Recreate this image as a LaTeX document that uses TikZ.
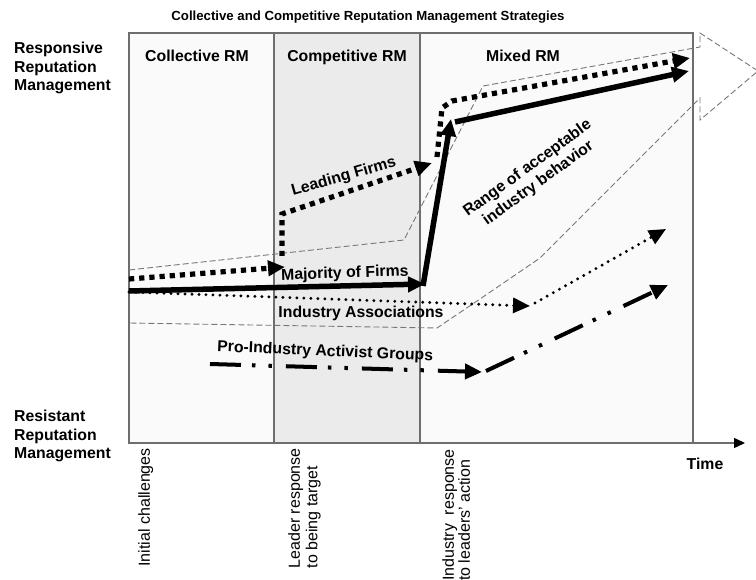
\documentclass[tikz,border=0pt]{standalone}
\usepackage{fontspec}
\setmainfont{Liberation Sans}
\usetikzlibrary{arrows.meta}
\definecolor{framegray}{HTML}{6E6E6E}
\definecolor{panellight}{HTML}{FAFAFA}
\definecolor{panelmid}{HTML}{EBEBEB}
\definecolor{rangegray}{HTML}{777777}

\begin{document}
\begin{tikzpicture}[x=1pt,y=-1pt,
  lbl/.style={font=\fontsize{15.8}{18.5}\selectfont\bfseries, inner sep=0pt},
  titlelbl/.style={font=\fontsize{13.2}{16}\selectfont\bfseries, inner sep=0pt},
  tick/.style={font=\fontsize{16}{17.5}\selectfont, inner sep=0pt, rotate=90, align=left, anchor=north east},
  tipbig/.style={-{Triangle[length=17pt,width=15pt]}},
  squaredots/.style={line width=5.2pt, dash pattern=on 5.2pt off 5pt, tipbig},
  thickline/.style={line width=5.5pt, tipbig},
  rounddots/.style={line width=3.2pt, line cap=round, dash pattern=on 0pt off 7pt, tipbig},
  dashdotdot/.style={line width=4pt, dash pattern=on 31pt off 11pt on 3.5pt off 13pt on 3.5pt off 14pt, tipbig},
  rangeline/.style={draw=rangegray, line width=0.9pt, dash pattern=on 6pt off 3pt},
  framestroke/.style={draw=framegray, line width=1.4pt},
]
\useasboundingbox (0,0) rectangle (756,580);
\fill[white] (0,0) rectangle (756,580);

% phases of the time line
\fill[panellight] (129,33) rectangle (274,443);
\fill[panelmid]   (274,33) rectangle (420,443);
\fill[panellight] (420,33) rectangle (693,443);
\draw[framestroke] (129,33) rectangle (693,443);
\draw[framestroke] (274,33) -- (274,443);
\draw[framestroke] (420,33) -- (420,443);

% time axis
\coordinate (axis0) at (129,443);
\coordinate (axis1) at (745,443);
\draw[framestroke, -{Triangle[length=11pt,width=10pt,color=black]}] (axis0) -- (axis1);

% range of acceptable industry behaviour (dashed band ending in an arrow head)
\draw[rangeline] (129,270) -- (404,240) -- (483,86) -- (700,47) -- (700,33)
  -- (758,71) -- (700,120) -- (700,98) -- (540,258) -- (480,299)
  -- (437,328) -- (129,323);

% leading firms
\coordinate (lf0) at (129,279);
\coordinate (lf1) at (285,267);
\coordinate (lf2) at (282,256);
\coordinate (lf3) at (282,214);
\coordinate (lf4) at (432,163);
\coordinate (lf5) at (437,157);
\coordinate (lf6) at (442,108);
\coordinate (lf7) at (452,101);
\coordinate (lf8) at (690,58);
\draw[squaredots] (lf0) -- (lf1);
\draw[squaredots] (lf2) -- (lf3) -- (lf4);
\draw[squaredots] (lf5) -- (lf6) -- (lf7) -- (lf8);

% majority of firms
\coordinate (mf0) at (129,291);
\coordinate (mf1) at (425,284);
\coordinate (mf2) at (423,286);
\coordinate (mf3) at (451,119);
\coordinate (mf4) at (455,122);
\coordinate (mf5) at (689,71);
\draw[thickline] (mf0) -- (mf1);
\draw[thickline] (mf2) -- (mf3);
\draw[thickline] (mf4) -- (mf5);

% industry associations
\coordinate (ia0) at (129,292);
\coordinate (ia1) at (530,306);
\coordinate (ia2) at (535,303);
\coordinate (ia3) at (666,229);
\draw[rounddots] (ia0) -- (ia1);
\draw[rounddots] (ia2) -- (ia3);

% pro-industry activist groups
\coordinate (pa0) at (210,364);
\coordinate (pa1) at (482,372);
\coordinate (pa2) at (486,371);
\coordinate (pa3) at (668,285);
\draw[dashdotdot] (pa0) -- (pa1);
\draw[dashdotdot] (pa2) -- (pa3);

% titles and headings
\node[titlelbl, anchor=base] (title) at (368,21) {Collective and Competitive Reputation Management Strategies};
\node[lbl, anchor=base] (hcoll) at (197,62) {Collective RM};
\node[lbl, anchor=base] (hcomp) at (347,62) {Competitive RM};
\node[lbl, anchor=base] (hmix)  at (523,62) {Mixed RM};

% vertical scale
\node[lbl, anchor=north west, align=left] (resp) at (14,42) {Responsive\\Reputation\\Management};
\node[lbl, anchor=north west, align=left] (resi) at (14,410) {Resistant\\Reputation\\Management};
\node[lbl, anchor=base] (time) at (705,469) {Time};

% events on the time axis
\node[tick] (ev1) at (138,448) {Initial challenges};
\node[tick] (ev2) at (288,448) {Leader response\\to being target};
\node[tick, font=\fontsize{16}{16}\selectfont] (ev3) at (442,449) {Industry~ response\\to leaders' action};

% line labels
\node[lbl, anchor=base, rotate=16] (llead) at (345,181) {Leading Firms};
\node[lbl, anchor=base, rotate=2] (lmaj) at (345,278) {Majority of Firms};
\node[lbl, anchor=base] (lia) at (361,318) {Industry Associations};
\node[lbl, anchor=base, rotate=-2.5] (lpro) at (325,356) {Pro-Industry Activist Groups};
\node[lbl, align=center, rotate=36, font=\fontsize{15.8}{18.5}\selectfont\bfseries] (lrange) at (533,176) {Range of acceptable\\industry behavior};
\end{tikzpicture}
\end{document}
